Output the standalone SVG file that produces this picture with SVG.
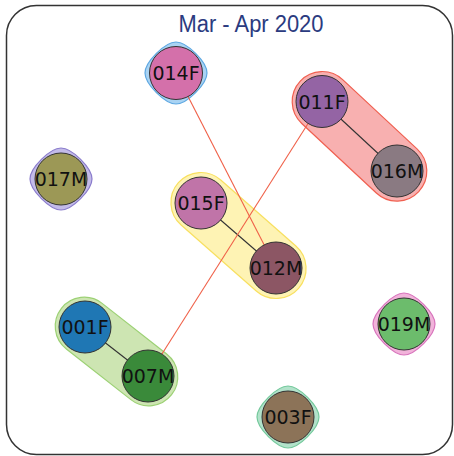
<svg xmlns="http://www.w3.org/2000/svg" xmlns:xlink="http://www.w3.org/1999/xlink" width="454" height="456" viewBox="0 0 454 456">
<style>
.frame{fill:#fff;stroke:#333;stroke-width:1.5}
.title{font-family:"Liberation Sans",Arial,sans-serif;font-size:23px;fill:#2b3b80;text-anchor:middle}
.node circle{stroke:#333;stroke-width:1}
.node text{font-family:"DejaVu Sans",sans-serif;font-size:19px;fill:#111;text-anchor:middle}
.hull{stroke-width:1.2}
.tie{stroke:#333;stroke-width:1.1}
.cross{stroke:#f06048;stroke-width:1.1}
</style>
<defs>
<path id="blob" d="M0,-31 C11,-31 31,-11 31,0 C31,11 11,31 0,31 C-11,31 -31,11 -31,0 C-31,-11 -11,-31 0,-31 Z"/>
</defs>
<rect class="frame" x="6.5" y="5.5" width="446" height="449" rx="30" ry="30"/>
<text class="title" x="251" y="32" textLength="145" lengthAdjust="spacingAndGlyphs">Mar - Apr 2020</text>
<g id="hulls">
<use xlink:href="#blob" href="#blob" class="hull" transform="translate(176,73)" fill="#a9d3f3" stroke="#5ea8e2"/>
<use xlink:href="#blob" href="#blob" class="hull" transform="translate(61,179)" fill="#c3bbe8" stroke="#8a7ccc"/>
<use xlink:href="#blob" href="#blob" class="hull" transform="translate(404,324)" fill="#f1b3da" stroke="#d874bc"/>
<use xlink:href="#blob" href="#blob" class="hull" transform="translate(288,417)" fill="#b2e2ca" stroke="#74c99c"/>
<rect class="hull" x="-81" y="-30" width="162" height="60" rx="30" ry="30" transform="translate(359.5,136.3) rotate(43)" fill="#f8b0b0" stroke="#f06050"/>
<rect class="hull" x="-80" y="-30" width="160" height="60" rx="30" ry="30" transform="translate(238.5,235.5) rotate(41.3)" fill="#fef3b4" stroke="#f8e060"/>
<rect class="hull" x="-70" y="-29" width="140" height="58" rx="29" ry="29" transform="translate(116.5,351.5) rotate(38.1)" fill="#cde5b2" stroke="#9cd174"/>
</g>
<g id="connectors">
<line class="tie" x1="322" y1="101.5" x2="397" y2="171"/>
<line class="tie" x1="201" y1="203" x2="276" y2="268"/>
<line class="tie" x1="85" y1="327" x2="148" y2="376"/>
<line class="cross" x1="176" y1="73" x2="276" y2="268"/>
<line class="cross" x1="322" y1="101.5" x2="148" y2="376"/>
</g>
<g id="n014F" class="node"><circle cx="176" cy="73" r="26.5" fill="#d470aa"/><text x="176" y="80">014F</text></g>
<g id="n011F" class="node"><circle cx="322" cy="101.5" r="26" fill="#9464a4"/><text x="322" y="108.5">011F</text></g>
<g id="n016M" class="node"><circle cx="397" cy="171" r="26" fill="#8a7a82"/><text x="397" y="178">016M</text></g>
<g id="n017M" class="node"><circle cx="61" cy="179" r="26" fill="#9c9856"/><text x="61" y="186">017M</text></g>
<g id="n015F" class="node"><circle cx="201" cy="203" r="26" fill="#c074a8"/><text x="201" y="210">015F</text></g>
<g id="n012M" class="node"><circle cx="276" cy="268" r="26" fill="#8c5664"/><text x="276" y="275">012M</text></g>
<g id="n001F" class="node"><circle cx="85" cy="327" r="26" fill="#1f77b4"/><text x="85" y="334">001F</text></g>
<g id="n007M" class="node"><circle cx="148" cy="376" r="26" fill="#3a8a3a"/><text x="148" y="383">007M</text></g>
<g id="n019M" class="node"><circle cx="404" cy="324" r="26" fill="#6cbc6c"/><text x="404" y="331">019M</text></g>
<g id="n003F" class="node"><circle cx="288" cy="417" r="26" fill="#8c7358"/><text x="288" y="424">003F</text></g>
</svg>
